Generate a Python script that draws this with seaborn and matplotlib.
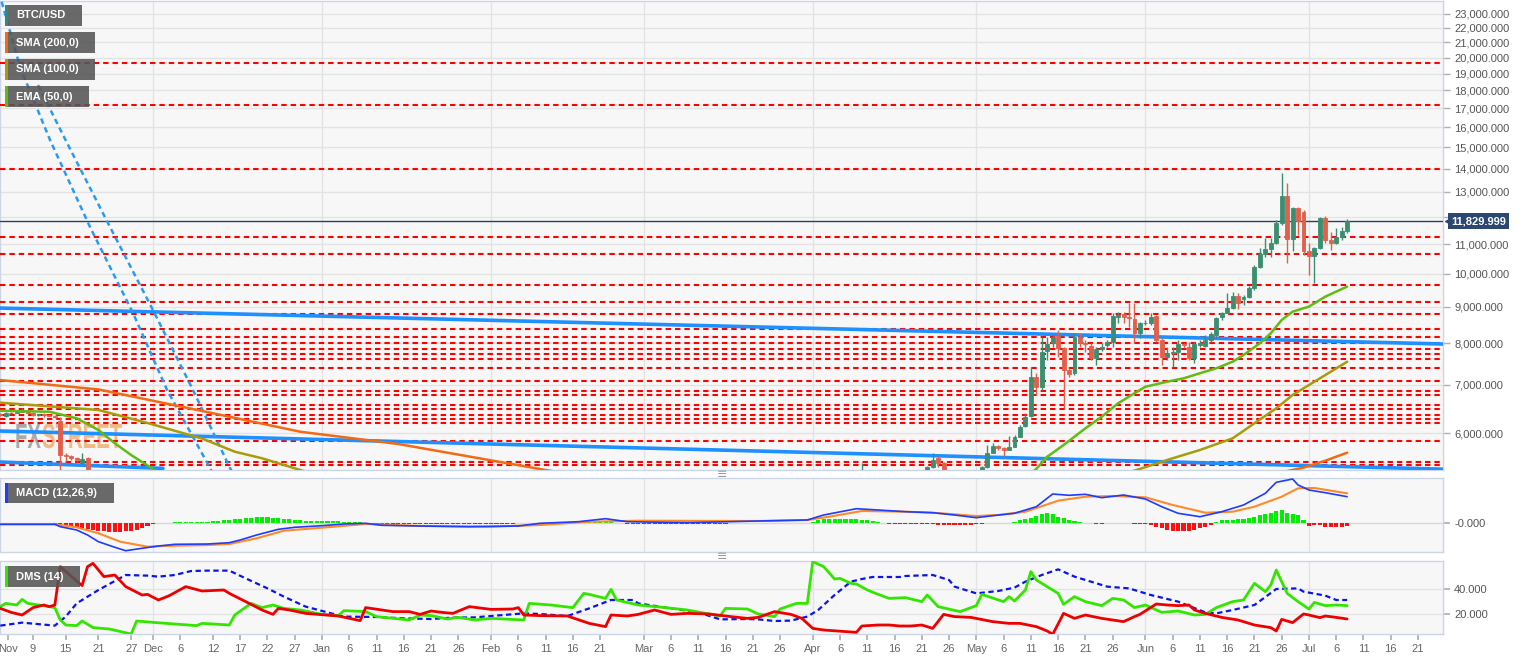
# BTC/USD daily chart with SMA/EMA, MACD and DMS panels
import numpy as np
import pandas as pd
import seaborn as sns
import matplotlib
matplotlib.use('Agg')
from matplotlib import pyplot as plt
from matplotlib.patches import Rectangle, PathPatch
from matplotlib.textpath import TextPath
from matplotlib.font_manager import FontProperties
from matplotlib.transforms import Affine2D, blended_transform_factory
from matplotlib.ticker import FixedLocator, NullLocator, FuncFormatter

sns.set_theme(style='white')
plt.rcParams['font.family'] = ['Liberation Sans', 'DejaVu Sans']

# ---------------- data ----------------
# candles (only the ones inside the visible price range)
candle_dates = (list(pd.date_range('2018-11-03', '2018-11-19'))
                + list(pd.to_datetime(['2019-04-10', '2019-04-22', '2019-04-23', '2019-04-24', '2019-04-25']))
                + list(pd.date_range('2019-05-02', '2019-07-08')))
candle_open = [6380, 6330, 6390, 6400, 6420, 6440, 6400, 6350, 6370, 6360, 6340, 6230, 5590, 5580, 5530, 5445, 5540,
               5170, 5300, 5385, 5538, 5444,
               5330, 5386, 5633, 5755, 5712, 5682, 5743, 5930, 6135, 6335, 7188, 6960, 7810, 7997, 8190, 7869, 7342,
               7265, 8172, 8014, 7929, 7620, 7844, 7955, 8040, 8711, 8788, 8711, 8636, 8260,
               8527, 8527, 8730, 8083, 7661, 7760, 7785, 7980, 7912, 7620, 7955, 7929, 8083, 8217, 8692, 8826, 8950,
               9309, 9213, 9272, 9539, 10229, 10638, 10822, 11022, 11752, 12834, 11166, 12336, 12204,
               10763, 10584, 10845, 11945, 11142, 11022, 11236, 11479]
candle_high = [6400, 6410, 6420, 6460, 6500, 6450, 6410, 6380, 6390, 6380, 6350, 6320, 5620, 5600, 5550, 5627, 5560,
               5444, 5400, 5627, 5580, 5460,
               5400, 5773, 5816, 5773, 5731, 5943, 5962, 6154, 6391, 7420, 7265, 8172, 8172, 8217, 8344, 7912, 7381,
               8260, 8260, 8083, 7997, 7912, 8014, 8083, 8807, 8855, 8855, 9114, 9114, 8574,
               8617, 8807, 8759, 8128, 7912, 7912, 8083, 8014, 8040, 8040, 8083, 8217, 8302, 8711, 8855, 9389, 9440,
               9389, 9339, 9612, 10284, 10845, 11202, 11202, 11879, 13830, 13363, 12403, 12403, 12270,
               11022, 10903, 11980, 12032, 11442, 11567, 11626, 11904]
candle_low = [6340, 6320, 6370, 6390, 6410, 6370, 6330, 6340, 6320, 6330, 6300, 5200, 5480, 5500, 5470, 5430, 4700,
              5150, 5250, 5370, 5385, 5100,
              5300, 5357, 5622, 5682, 5574, 5682, 5731, 5917, 6122, 6325, 6779, 6886, 7579, 7912, 7661, 6493, 7188,
              7227, 7912, 7785, 7579, 7459, 7810, 7912, 7912, 8527, 8527, 8435, 7997, 8128,
              8481, 8481, 8040, 7459, 7579, 7420, 7579, 7869, 7579, 7499, 7912, 7912, 8040, 8172, 8617, 8807, 8921,
              8921, 9046, 9243, 9491, 10174, 10561, 10561, 10998, 11689, 10339, 10763, 11320, 10614,
              9959, 9695, 10811, 11046, 10787, 10998, 11142, 11381]
candle_close = [6360, 6390, 6400, 6420, 6440, 6400, 6350, 6370, 6360, 6340, 6320, 5600, 5580, 5530, 5510, 5520, 4800,
                5310, 5385, 5503, 5444, 5200,
                5386, 5633, 5755, 5712, 5682, 5731, 5930, 6122, 6325, 7188, 6960, 7785, 7980, 8154, 7869, 7342, 7250,
                8172, 7997, 7980, 7620, 7844, 7912, 8040, 8730, 8759, 8711, 8664, 8260, 8527,
                8546, 8711, 8083, 7661, 7760, 7790, 7980, 7955, 7620, 7972, 8014, 8083, 8243, 8664, 8826, 8967, 9309,
                9114, 9272, 9539, 10207, 10638, 10811, 11022, 11752, 12834, 11166, 12336, 11851, 10763,
                10584, 10845, 11945, 11142, 11022, 11236, 11479, 11830]
last_price = 11829.999

# moving averages (visible parts only)
sma200_early_dates = ['2018-11-03', '2018-11-21', '2018-12-10', '2018-12-28', '2019-01-15', '2019-02-11', '2019-02-15']
sma200_early = [7110, 6900, 6440, 6025, 5792, 5329, 5270]
sma200_late_dates = ['2019-06-25', '2019-06-30', '2019-07-04', '2019-07-08']
sma200_late = [5270, 5370, 5490, 5633]

sma100_early_dates = ['2018-11-03', '2018-11-21', '2018-11-30', '2018-12-10', '2018-12-16', '2018-12-21',
                      '2018-12-28', '2019-01-02']
sma100_early = [6613, 6460, 6196, 5895, 5651, 5533, 5329, 5193]
sma100_late_dates = ['2019-05-29', '2019-05-31', '2019-06-05', '2019-06-11', '2019-06-17', '2019-06-21',
                     '2019-06-25', '2019-06-28', '2019-07-02', '2019-07-08']
sma100_late = [5290, 5347, 5503, 5682, 5898, 6190, 6494, 6778, 7073, 7541]

ema50_early_dates = ['2018-11-03', '2018-11-12', '2018-11-17', '2018-11-21', '2018-11-24', '2018-11-27',
                     '2018-12-01', '2018-12-03']
ema50_early = [6444, 6424, 6290, 6058, 5805, 5591, 5347, 5200]
ema50_late_dates = ['2019-05-10', '2019-05-12', '2019-05-14', '2019-05-17', '2019-05-21', '2019-05-24',
                    '2019-05-27', '2019-05-30', '2019-06-01', '2019-06-05', '2019-06-08', '2019-06-11',
                    '2019-06-14', '2019-06-17', '2019-06-19', '2019-06-22', '2019-06-24', '2019-06-26',
                    '2019-06-28', '2019-07-01', '2019-07-04', '2019-07-06', '2019-07-08']
ema50_late = [5200, 5347, 5561, 5773, 6091, 6322, 6600, 6815, 6960, 7073, 7150, 7267, 7384, 7541, 7705, 8002,
              8261, 8621, 8855, 8999, 9292, 9443, 9596]

# drawn support / resistance levels
levels = [19650, 17170, 14000, 11250, 10650, 9650, 9130, 8790, 8375, 8170, 8000, 7865, 7730, 7605, 7400,
          7100, 6855, 6780, 6565, 6475, 6355, 6285, 6200, 5855, 5470, 5415]

# trend lines
x_start, x_end = '2018-11-02 22:40', '2019-07-25 14:00'
trend_upper = [8957, 7982]
trend_lower = [6039, 5343]
trend_short_dates = ['2018-11-02 22:40', '2018-12-02 20:00']
trend_short = [5467, 5357]
diag_a_dates = ['2018-11-03 06:00', '2018-11-06 15:00', '2018-11-12 03:00', '2018-11-19 11:00',
                '2018-11-27 08:00', '2018-12-03 14:00', '2018-12-11 11:00', '2018-12-12 05:00']
diag_a = [23920, 19400, 15350, 11614, 8815, 6888, 5364, 5227]
diag_b_dates = ['2018-11-09 22:00', '2018-11-15 06:00', '2018-11-23 03:00', '2018-12-01 00:00',
                '2018-12-08 08:00', '2018-12-15 03:00', '2018-12-15 21:00']
diag_b = [18313, 15203, 11614, 8899, 6888, 5364, 5227]

# MACD (12,26,9)
macd_dates = ['2018-11-03', '2018-11-13', '2018-11-14', '2018-11-17', '2018-11-19', '2018-11-21', '2018-11-24',
              '2018-11-26', '2018-11-29', '2018-12-02', '2018-12-05', '2018-12-11', '2018-12-15', '2018-12-17',
              '2018-12-20', '2018-12-24', '2018-12-27', '2019-01-01', '2019-01-05', '2019-01-09', '2019-01-12',
              '2019-01-19', '2019-01-28', '2019-02-06', '2019-02-10', '2019-02-17', '2019-02-22', '2019-02-26',
              '2019-03-09', '2019-03-22', '2019-03-31', '2019-04-03', '2019-04-09', '2019-04-13', '2019-04-18',
              '2019-04-23', '2019-04-27', '2019-05-01', '2019-05-04', '2019-05-08', '2019-05-12', '2019-05-15',
              '2019-05-18', '2019-05-21', '2019-05-24', '2019-05-28', '2019-06-01', '2019-06-04', '2019-06-07',
              '2019-06-11', '2019-06-15', '2019-06-19', '2019-06-23', '2019-06-25', '2019-06-28', '2019-06-29',
              '2019-07-01', '2019-07-04', '2019-07-08']
macd_line = [-1, -1, -3.4, -6.7, -11.7, -18.4, -24, -27.4, -25, -22.7, -21, -20.7, -19.4, -16.7, -11.7, -6, -4,
             -2.4, -0.7, 0, -2, -2.7, -3.4, -2.7, 0, 1.6, 4.6, 1.6, 0.6, 2.3, 3.3, 8.3, 14.6, 13.3, 11.6, 10.6, 8.3,
             5.6, 7.6, 10, 16.6, 29.3, 28, 29, 25.6, 28.3, 24.3, 16.6, 10, 6.6, 11.6, 18.3, 30, 41, 44.3, 38.3,
             33.3, 30.6, 26.6]
signal_dates = ['2018-11-03', '2018-11-13', '2018-11-17', '2018-11-21', '2018-11-25', '2018-11-30', '2018-12-03',
                '2018-12-11', '2018-12-15', '2018-12-20', '2018-12-25', '2019-01-01', '2019-01-09', '2019-01-19',
                '2019-02-01', '2019-02-10', '2019-02-19', '2019-02-28', '2019-03-22', '2019-03-31', '2019-04-04',
                '2019-04-10', '2019-04-18', '2019-04-23', '2019-05-01', '2019-05-05', '2019-05-10', '2019-05-16',
                '2019-05-21', '2019-05-26', '2019-06-01', '2019-06-06', '2019-06-12', '2019-06-17', '2019-06-21',
                '2019-06-26', '2019-06-29', '2019-07-02', '2019-07-08']
signal_line = [-1, -1, -4, -10, -18.4, -23.4, -22.7, -21.7, -20.7, -15, -7.4, -4.4, -0.7, -2.7, -3.4, -1.7, 1.6,
               2.6, 2.3, 3.3, 6.6, 12.3, 11.6, 10.6, 7.3, 8.3, 11.6, 22.6, 26.6, 27.3, 26, 18.3, 10.6, 11.6, 16.6,
               26.6, 35, 35.3, 30]
hist_start = '2018-11-03'
macd_hist = [0.5, 0.6, 0.6, 0.7, 0.7, 0.6, 0.5, 0.4, 0.3, 0.2,
             -0.3, -1.5, -2.5, -3.2, -3.8, -4.5, -5.5, -6.5, -7.5, -8.0, -8.4, -8.4, -8.3, -8.0, -7.2, -6.2, -4.5, -2.5,
             -0.8, 0.5, 0.7, 0.8, 0.9, 1.0, 1.0, 1.1, 1.2, 1.4, 1.7, 2.0, 2.4, 2.9, 3.4, 4.0, 4.6, 5.2, 5.7, 6.0, 6.1,
             6.0, 5.7, 5.2, 4.6, 4.0, 3.4, 3.0, 2.7, 2.5, 2.3,
             2.3, 2.1, 2.0, 1.9, 1.7, 1.5, 1.3, 1.0, 0.7, 0.3, -0.3, -0.5, -0.6, -0.7, -0.7, -0.7, -0.6, -0.6, -0.5,
             -0.5, -0.5, -0.4, -0.4, -0.4, -0.3, -0.3, -0.3, -0.4, -0.4, -0.3, -0.3,
             -0.3, -0.2, -0.2, -0.2, -0.2, -0.1, -0.1, 0.3, 0.5, 0.6, 0.7, 0.7, 0.7, 0.8, 0.8, 0.9, 1.0, 1.2, 1.4,
             1.5, 1.5, 1.4, 1.2, 0.6, 0.3, -0.2, -0.4, -0.5,
             -0.5, -0.6, -0.6, -0.7, -0.6, -0.6, -0.6, -0.5, -0.5, -0.5, -0.5, -0.4, -0.4, -0.3, -0.3, -0.2, -0.1,
             0.2, 0.3, 0.3, 0.3, 0.3, 0.3, 0.3, 0.3, 0.2, 0.2, 0.3, 0.4, 0.5, 0.6,
             1.0, 3.0, 4.0, 4.2, 4.2, 4.0, 4.0, 4.0, 4.0, 3.6, 3.0, 2.0, 1.0, 0.3, -0.3, -0.4, -0.5, -0.5, -0.5,
             -0.5, -0.5, -0.4, -0.5, -1.2, -1.7, -1.8, -1.8, -1.7, -1.7, -1.5,
             -1.0, -0.3, 0.3, 0.5, 0.5, 0.5, 0.6, 1.5, 3.4, 4.5, 5.7, 7.5, 9.0, 10.0, 9.5, 6.7, 5.0, 3.4, 2.5, 1.7,
             0.7, 0.3, -0.3, -0.2, 0.3, 0.7, 0.8, 0.7, 0.3, -0.3, -0.6,
             -1.0, -1.5, -3.4, -5.0, -6.7, -7.5, -7.7, -7.7, -7.5, -6.5, -5.0, -3.4, -1.7, 1.0, 3.4, 3.4, 3.6, 4.0,
             4.0, 5.0, 6.7, 8.0, 9.0, 10.0, 12.0, 13.3, 10.0, 9.0, 8.0, 3.4,
             -2.7, -1.7, -1.5, -4.0, -3.4, -4.0, -3.4, -2.7]

# DMS (14)
dip_dates = ['2018-11-03', '2018-11-04', '2018-11-06', '2018-11-07', '2018-11-08', '2018-11-10', '2018-11-12',
             '2018-11-13', '2018-11-14', '2018-11-15', '2018-11-17', '2018-11-18', '2018-11-20', '2018-11-23',
             '2018-11-27', '2018-11-28',
             '2018-12-01', '2018-12-05', '2018-12-09', '2018-12-10', '2018-12-12', '2018-12-15', '2018-12-16',
             '2018-12-19', '2018-12-21', '2018-12-23', '2018-12-25', '2018-12-28',
             '2019-01-01', '2019-01-04', '2019-01-05', '2019-01-09', '2019-01-11', '2019-01-17', '2019-01-19',
             '2019-01-21', '2019-01-24', '2019-01-26', '2019-01-29',
             '2019-02-01', '2019-02-07', '2019-02-08', '2019-02-12', '2019-02-16', '2019-02-18', '2019-02-19',
             '2019-02-22', '2019-02-23', '2019-02-24', '2019-02-28',
             '2019-03-05', '2019-03-09', '2019-03-15', '2019-03-16', '2019-03-20', '2019-03-22', '2019-03-25',
             '2019-03-26', '2019-03-29', '2019-03-31',
             '2019-04-01', '2019-04-03', '2019-04-05', '2019-04-06', '2019-04-08', '2019-04-09', '2019-04-11',
             '2019-04-13', '2019-04-15', '2019-04-18', '2019-04-21', '2019-04-22', '2019-04-24', '2019-04-28',
             '2019-05-01', '2019-05-02', '2019-05-06', '2019-05-07', '2019-05-08', '2019-05-10', '2019-05-11',
             '2019-05-12', '2019-05-16', '2019-05-17', '2019-05-19', '2019-05-21', '2019-05-24', '2019-05-26',
             '2019-05-28', '2019-05-30',
             '2019-06-01', '2019-06-04', '2019-06-07', '2019-06-10', '2019-06-12', '2019-06-14', '2019-06-17',
             '2019-06-19', '2019-06-21', '2019-06-23', '2019-06-24', '2019-06-25', '2019-06-27', '2019-06-29',
             '2019-07-01', '2019-07-02', '2019-07-04', '2019-07-06', '2019-07-08']
dip = [25.9, 28.5, 27.2, 31.7, 28.5, 27.2, 25.9, 25.1, 15.2, 11.2, 10.7, 14.4, 9.1, 8.0, 4.0, 14.4,
       13.3, 12.0, 10.7, 12.5, 12.0, 11.2, 19.2, 28.5, 25.1, 27.2, 24.5, 23.2,
       19.7, 18.7, 22.7, 21.9, 17.9, 15.2, 19.2, 18.7, 16.0, 17.3, 15.2,
       16.5, 15.2, 28.5, 27.2, 25.1, 36.5, 35.7, 32.5, 39.7, 31.2, 27.2,
       25.1, 23.2, 18.4, 24.5, 24.0, 20.0, 17.9, 24.0, 28.5, 28.5,
       61.9, 57.9, 48.0, 48.5, 44.5, 44.0, 39.2, 35.7, 32.5, 33.1, 29.9, 35.2, 25.9, 21.9,
       26.7, 35.7, 29.9, 33.9, 30.4, 39.2, 53.9, 47.2, 36.5, 27.7, 33.9, 29.9, 26.7, 32.5, 31.2, 25.1,
       27.2, 21.3, 22.4, 19.2, 19.7, 25.1, 29.9, 31.2, 44.5, 37.9, 43.2, 55.2, 36.5, 29.9,
       24.0, 29.3, 26.7, 27.2, 26.7]
dim_dates = ['2018-11-03', '2018-11-05', '2018-11-07', '2018-11-09', '2018-11-11', '2018-11-12', '2018-11-13',
             '2018-11-14', '2018-11-18', '2018-11-19', '2018-11-20', '2018-11-22', '2018-11-24', '2018-11-26',
             '2018-11-29', '2018-11-30',
             '2018-12-02', '2018-12-04', '2018-12-07', '2018-12-10', '2018-12-14', '2018-12-15', '2018-12-18',
             '2018-12-21', '2018-12-23', '2018-12-24', '2018-12-26', '2018-12-29',
             '2019-01-04', '2019-01-08', '2019-01-09', '2019-01-12', '2019-01-14', '2019-01-17', '2019-01-19',
             '2019-01-21', '2019-01-23', '2019-01-25', '2019-01-28',
             '2019-02-01', '2019-02-05', '2019-02-06', '2019-02-07', '2019-02-10', '2019-02-15', '2019-02-19',
             '2019-02-22', '2019-02-23', '2019-02-26', '2019-02-28',
             '2019-03-03', '2019-03-06', '2019-03-09', '2019-03-13', '2019-03-17', '2019-03-20', '2019-03-22',
             '2019-03-25', '2019-03-28', '2019-03-30',
             '2019-04-01', '2019-04-03', '2019-04-09', '2019-04-10', '2019-04-13', '2019-04-15', '2019-04-17',
             '2019-04-19', '2019-04-21', '2019-04-23', '2019-04-25', '2019-04-27', '2019-04-30',
             '2019-05-04', '2019-05-07', '2019-05-09', '2019-05-12', '2019-05-14', '2019-05-15', '2019-05-17',
             '2019-05-19', '2019-05-21', '2019-05-24', '2019-05-28', '2019-05-30', '2019-05-31',
             '2019-06-03', '2019-06-05', '2019-06-07', '2019-06-09', '2019-06-10', '2019-06-12', '2019-06-15',
             '2019-06-18', '2019-06-21', '2019-06-24', '2019-06-25', '2019-06-26', '2019-06-28', '2019-06-30',
             '2019-07-01', '2019-07-03', '2019-07-04', '2019-07-06', '2019-07-08']
dim = [24.5, 21.3, 19.2, 25.1, 27.2, 25.9, 27.2, 57.9, 42.7, 57.9, 60.5, 49.9, 51.2, 41.9, 35.2, 35.7,
       31.2, 34.7, 41.9, 38.4, 39.2, 36.5, 29.9, 23.2, 19.7, 24.5, 23.2, 20.5,
       18.4, 14.7, 25.1, 23.2, 21.9, 21.9, 19.7, 22.4, 21.3, 20.5, 25.9,
       23.7, 24.0, 25.1, 19.2, 18.7, 18.4, 12.5, 9.9, 19.2, 18.4, 19.7,
       23.2, 19.7, 20.5, 20.0, 17.9, 16.5, 17.3, 21.9, 19.7, 16.5,
       8.5, 7.2, 5.3, 10.4, 11.2, 11.2, 10.4, 10.4, 11.2, 8.5, 19.7, 17.9, 17.3,
       13.9, 12.5, 12.5, 9.9, 6.4, 3.7, 20.5, 16.5, 19.2, 16.5, 13.9, 17.9, 19.7,
       28.0, 27.2, 26.7, 27.2, 23.2, 20.5, 17.3, 15.2, 11.2, 9.1, 6.4, 15.7, 13.1, 20.0,
       19.2, 17.1, 18.4, 17.3, 16.0]
adx_dates = ['2018-11-03', '2018-11-07', '2018-11-13', '2018-11-15', '2018-11-17', '2018-11-21', '2018-11-24',
             '2018-11-26', '2018-11-30', '2018-12-02', '2018-12-05', '2018-12-08', '2018-12-11', '2018-12-15',
             '2018-12-18', '2018-12-22', '2018-12-25', '2018-12-29', '2019-01-02', '2019-01-05', '2019-01-11',
             '2019-01-16', '2019-01-21', '2019-01-25', '2019-01-29', '2019-02-01', '2019-02-07', '2019-02-10',
             '2019-02-15', '2019-02-19', '2019-02-23', '2019-02-27', '2019-02-28', '2019-03-06', '2019-03-11',
             '2019-03-15', '2019-03-20', '2019-03-22', '2019-03-25', '2019-03-28', '2019-03-31', '2019-04-02',
             '2019-04-05', '2019-04-08', '2019-04-10', '2019-04-12', '2019-04-17', '2019-04-18', '2019-04-23',
             '2019-04-26', '2019-04-27', '2019-05-01', '2019-05-05', '2019-05-08', '2019-05-10', '2019-05-13',
             '2019-05-16', '2019-05-19', '2019-05-25', '2019-05-29', '2019-06-02', '2019-06-07', '2019-06-12',
             '2019-06-14', '2019-06-17', '2019-06-21', '2019-06-25', '2019-06-29', '2019-06-30', '2019-07-04',
             '2019-07-06', '2019-07-08']
adx = [10.7, 13.1, 10.7, 17.9, 28.5, 39.2, 46.4, 51.2, 50.7, 49.9, 51.2, 54.4, 54.7, 54.7, 48.5, 40.5, 33.9,
       25.9, 21.3, 17.9, 17.6, 16.5, 16.0, 17.1, 17.3, 18.4, 20.5, 20.0, 18.4, 24.5, 31.2, 31.2, 28.5, 24.5,
       21.3, 15.7, 16.0, 15.7, 14.4, 14.7, 17.9, 23.2, 35.2, 45.9, 48.0, 49.6, 49.6, 50.4, 51.2, 47.2, 41.9,
       36.5, 38.4, 41.1, 45.9, 51.2, 55.7, 49.9, 41.9, 40.5, 35.2, 29.9, 21.3, 20.5, 23.2, 27.2, 40.0, 40.5,
       37.9, 34.7, 31.2, 31.2]

# axis ticks
price_ticks = [6000, 7000, 8000, 9000, 10000, 11000, 12000, 13000, 14000, 15000, 16000, 17000, 18000, 19000,
               20000, 21000, 22000, 23000]
month_starts = ['2018-12-01', '2019-01-01', '2019-02-01', '2019-03-01', '2019-04-01', '2019-05-01',
                '2019-06-01', '2019-07-01']
tick_dates = ['2018-11-04 12:00', '2018-11-09', '2018-11-15', '2018-11-21', '2018-11-27',
              '2018-12-01', '2018-12-06', '2018-12-12', '2018-12-17', '2018-12-22', '2018-12-27',
              '2019-01-01', '2019-01-06', '2019-01-11', '2019-01-16', '2019-01-21', '2019-01-26',
              '2019-02-01', '2019-02-06', '2019-02-11', '2019-02-16', '2019-02-21',
              '2019-03-01', '2019-03-06', '2019-03-11', '2019-03-16', '2019-03-21', '2019-03-26',
              '2019-04-01', '2019-04-06', '2019-04-11', '2019-04-16', '2019-04-21', '2019-04-26',
              '2019-05-01', '2019-05-06', '2019-05-11', '2019-05-16', '2019-05-21', '2019-05-26',
              '2019-06-01', '2019-06-06', '2019-06-11', '2019-06-16', '2019-06-21', '2019-06-26',
              '2019-07-01', '2019-07-06', '2019-07-11', '2019-07-16', '2019-07-21']
tick_labels = ['Nov', '9', '15', '21', '27', 'Dec', '6', '12', '17', '22', '27', 'Jan', '6', '11', '16', '21', '26',
               'Feb', '6', '11', '16', '21', 'Mar', '6', '11', '16', '21', '26', 'Apr', '6', '11', '16', '21', '26',
               'May', '6', '11', '16', '21', '26', 'Jun', '6', '11', '16', '21', '26', 'Jul', '6', '11', '16', '21']

# ---------------- colours ----------------
PANEL = '#f7f7f7'
GRID = '#e3e3e3'
BORDER = '#ccd5e3'
UP, DOWN = '#3b8f70', '#e0604c'
C200, C100, C50 = '#f26a13', '#a89c0a', '#62bb12'
TREND = '#1e90ff'
NAVY = '#2c4770'


def to_dt(v):
    return pd.to_datetime(v, format='mixed')


# ---------------- layout ----------------
W, H = 1534, 661
fig = plt.figure(figsize=(W / 100, H / 100), dpi=100)
fig.patch.set_facecolor('white')


def px_box(left, top, right, bottom):
    return [left / W, 1 - bottom / H, (right - left) / W, (bottom - top) / H]


ax = fig.add_axes(px_box(0, 1.5, 1443, 470))
axm = fig.add_axes(px_box(0, 478, 1443, 552), sharex=ax)
axd = fig.add_axes(px_box(0, 561, 1443, 634), sharex=ax)

xmin, xmax = to_dt(x_start), to_dt(x_end)

for a in (ax, axm, axd):
    a.set_facecolor(PANEL)
    for s in a.spines.values():
        s.set_color(BORDER)
        s.set_linewidth(1)
    for m in month_starts:
        a.axvline(to_dt(m), color=GRID, lw=1, zorder=0)

# ---------------- price panel ----------------
ax.set_yscale('log')
ax.set_ylim(5329, 23940)
ax.set_xlim(xmin, xmax)
ax.yaxis.set_major_locator(FixedLocator(price_ticks))
ax.yaxis.set_minor_locator(NullLocator())
ax.yaxis.set_major_formatter(FuncFormatter(lambda v, p: f'{v:,.3f}'))
ax.grid(axis='y', color=GRID, lw=1, zorder=0)
ax.set_axisbelow(True)

for lv in levels:
    ax.axhline(lv, color='#ff0000', lw=1.5, dashes=(2.6, 1.9), zorder=3)
ax.axhline(last_price, color='#2b3f5f', lw=1, zorder=3.5)

# FXSTREET watermark
fp = FontProperties(family='Liberation Sans', weight='bold')
for word, x0, col in [('FX', 15, '#8a8a8a'), ('STREET', 42, '#efa055')]:
    tp = TextPath((0, 0), word, size=35, prop=fp)
    ax.add_artist(PathPatch(tp, transform=Affine2D().scale(0.58, 1).translate(x0, H - 448),
                            fc=col, ec='none', alpha=0.7, zorder=2, clip_on=False))

# trend lines
sns.lineplot(x=to_dt([x_start, x_end]), y=trend_upper, ax=ax, color=TREND, lw=2.6, zorder=4)
sns.lineplot(x=to_dt([x_start, x_end]), y=trend_lower, ax=ax, color=TREND, lw=2.6, zorder=4)
sns.lineplot(x=to_dt(trend_short_dates), y=trend_short, ax=ax, color=TREND, lw=2.6, zorder=4)
for d, v in [(diag_a_dates, diag_a), (diag_b_dates, diag_b)]:
    sns.lineplot(x=to_dt(d), y=v, ax=ax, color='#2a9bf2', lw=1.8, zorder=4)
    ax.lines[-1].set_dashes((2.2, 1.6))

# moving averages
for d, v, c in [(sma200_early_dates, sma200_early, C200), (sma200_late_dates, sma200_late, C200),
                (sma100_early_dates, sma100_early, C100), (sma100_late_dates, sma100_late, C100),
                (ema50_early_dates, ema50_early, C50), (ema50_late_dates, ema50_late, C50)]:
    sns.lineplot(x=to_dt(d), y=v, ax=ax, color=c, lw=1.8, zorder=6)

# candles
o = np.array(candle_open, dtype=float)
c = np.array(candle_close, dtype=float)
ccol = np.where(c >= o, UP, DOWN)
ax.vlines(candle_dates, candle_low, candle_high, colors=ccol, lw=1, zorder=5)
ax.bar(candle_dates, np.abs(c - o), bottom=np.minimum(o, c), width=0.72, color=ccol, edgecolor=ccol,
       lw=0.6, zorder=5.5)

ax.tick_params(axis='y', which='major', left=False, right=True, labelleft=False, labelright=True,
               direction='out', length=5, width=1, color='#b0b0b0', labelsize=8, labelcolor='#555555', pad=3)
ax.tick_params(axis='x', bottom=False, labelbottom=False)

# last price tag
trans = blended_transform_factory(ax.transAxes, ax.transData)
ax.plot([1.0035], [last_price], marker='<', ms=5, color=NAVY, transform=trans, clip_on=False, zorder=30)
ax.text(1.0058, last_price, f'{last_price:,.3f}', transform=trans, ha='left', va='center', fontsize=8,
        fontweight='bold', color='white', zorder=31, clip_on=False,
        bbox=dict(boxstyle='square,pad=0.28', fc=NAVY, ec='none'))

# ---------------- MACD panel ----------------
hd = pd.date_range(hist_start, periods=len(macd_hist))
hv = np.array(macd_hist)
axm.bar(hd, hv, width=0.75, color=np.where(hv >= 0, '#00ee00', '#ff1010'), lw=0, zorder=2)
sns.lineplot(x=to_dt(macd_dates), y=macd_line, ax=axm, color='#1f3cff', lw=1.2, zorder=4)
sns.lineplot(x=to_dt(signal_dates), y=signal_line, ax=axm, color='#ff8a2a', lw=1.5, zorder=3)
axm.set_ylim(-28.7, 45.3)
axm.set_yticks([0])
axm.set_yticklabels(['-0.000'])
axm.grid(axis='y', color='#d8d8d8', lw=1)
axm.set_axisbelow(True)
axm.tick_params(axis='y', left=False, right=True, labelleft=False, labelright=True, direction='out', length=5,
                color='#b0b0b0', labelsize=8, labelcolor='#555555', pad=3)
axm.tick_params(axis='x', bottom=False, labelbottom=False)

# ---------------- DMS panel ----------------
sns.lineplot(x=to_dt(adx_dates), y=adx, ax=axd, color='#0a14ee', lw=1.6, zorder=3)
axd.lines[-1].set_dashes((2.4, 1.6))
sns.lineplot(x=to_dt(dip_dates), y=dip, ax=axd, color='#33e600', lw=2, zorder=4)
sns.lineplot(x=to_dt(dim_dates), y=dim, ax=axd, color='#ee0000', lw=2, zorder=5)
axd.set_ylim(4, 62.4)
axd.set_yticks([20, 40])
axd.set_yticklabels(['20.000', '40.000'])
axd.grid(axis='y', color=GRID, lw=1)
axd.set_axisbelow(True)
axd.tick_params(axis='y', left=False, right=True, labelleft=False, labelright=True, direction='out', length=5,
                color='#b0b0b0', labelsize=8, labelcolor='#555555', pad=3)
axd.set_xticks(to_dt(tick_dates))
axd.set_xticklabels(tick_labels)
axd.tick_params(axis='x', bottom=True, direction='out', length=4, color='#b0b0b0', labelsize=8,
                labelcolor='#666666', pad=3.5)
axd.set_xlim(xmin, xmax)

for a in (ax, axm, axd):
    a.set_xlabel('')
    a.set_ylabel('')


# ---------------- indicator name boxes ----------------
def name_box(text, left, top, width, height, stripe):
    fig.add_artist(Rectangle((left / W, 1 - (top + height) / H), width / W, height / H,
                             transform=fig.transFigure, fc='#555555', ec='none', alpha=0.88, zorder=20))
    fig.add_artist(Rectangle((left / W, 1 - (top + height) / H), 2.5 / W, height / H,
                             transform=fig.transFigure, fc=stripe, ec='none', zorder=21))
    fig.text((left + 11) / W, 1 - (top + height / 2) / H, text, color='white', fontsize=8,
             fontweight='bold', va='center', ha='left', zorder=22)


name_box('BTC/USD', 5, 5, 77, 21, '#2e8b7a')
name_box('SMA (200,0)', 5, 32, 90, 21, C200)
name_box('SMA (100,0)', 5, 59, 90, 21, C100)
name_box('EMA (50,0)', 5, 86, 84, 21, C50)
name_box('MACD (12,26,9)', 5, 483, 109, 20, '#1f3cff')
name_box('DMS (14)', 5, 566, 75, 21, '#33e600')

# panel resize handles
for yy in (474.5, 556.5):
    fig.text(722 / W, 1 - yy / H, '\u2261', ha='center', va='center', fontsize=9, color='#999999',
             family='DejaVu Sans')

fig.savefig('out.png', dpi=100)
